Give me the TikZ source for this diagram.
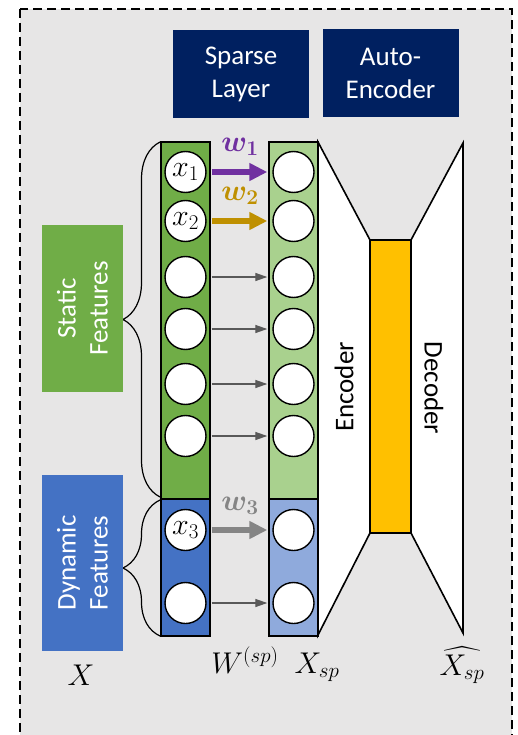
\RequirePackage{fix-cm}
\documentclass[tikz,border=0pt]{standalone}
\usepackage[no-math]{fontspec}
\setmainfont{Carlito}
\usepackage{amsmath}
\usetikzlibrary{arrows.meta,decorations.pathreplacing}

\definecolor{bggray}{HTML}{E7E6E6}
\definecolor{navy}{HTML}{002060}
\definecolor{sgreen}{HTML}{70AD47}
\definecolor{lgreen}{HTML}{A9D18E}
\definecolor{dblue}{HTML}{4472C4}
\definecolor{lblue}{HTML}{8FAADC}
\definecolor{wpurple}{HTML}{7030A0}
\definecolor{wgold}{HTML}{BF9000}
\definecolor{wgray}{HTML}{858585}
\definecolor{darrow}{HTML}{595959}
\definecolor{latent}{HTML}{FFC000}

\begin{document}
\begin{tikzpicture}[x=1pt,y=-1pt,
    titlebox/.style={fill=navy,text=white,minimum width=136pt,minimum height=88pt,
        align=center,font=\fontsize{27}{33}\selectfont},
    featbox/.style={text=white,rotate=90,align=center,minimum height=81pt,
        font=\fontsize{27}{32}\selectfont},
    column/.style={draw,line width=1.6pt},
    neuron/.style={circle,draw,fill=white,line width=1.4pt,minimum size=41pt,
        inner sep=0pt,font=\fontsize{30}{36}\selectfont},
    heavyarrow/.style={line width=6pt,-{Triangle[length=18pt,width=17pt]},
        shorten <=5pt,shorten >=5pt},
    lightarrow/.style={darrow,line width=1.3pt,-{Triangle[length=12pt,width=8pt]},
        shorten <=5pt,shorten >=5pt},
    wlabel/.style={font=\fontsize{30}{36}\selectfont},
    mathlabel/.style={anchor=base,font=\fontsize{30}{36}\selectfont},
    curly/.style={decorate,decoration={brace,amplitude=37pt},line width=1.2pt}]

    \useasboundingbox (0,0) rectangle (518,735);
    \clip (0,0) rectangle (518,735);
    \fill[white] (0,0) rectangle (518,735);
    \draw[fill=bggray,line width=1.5pt,dash pattern=on 9pt off 5pt] (20,9) rectangle (512,760);

    \node[titlebox] (sparse) at (241,74) {Sparse\\Layer};
    \node[titlebox] (autoenc) at (390.5,73) {Auto-\\Encoder};

    \draw[fill=white,line width=1.6pt] (318,142) -- (370,240) -- (370,533) -- (318,635) -- cycle;
    \draw[fill=white,line width=1.6pt] (411,240) -- (463,143) -- (463,633) -- (411,533) -- cycle;
    \draw[fill=latent,line width=1.6pt] (370,240) rectangle (411,533);
    \node[rotate=90,font=\fontsize{27}{32}\selectfont] (enc) at (344,387) {Encoder};
    \node[rotate=-90,font=\fontsize{27}{32}\selectfont] (dec) at (434,388) {Decoder};

    \draw[column,fill=sgreen] (161,142) rectangle (210,499);
    \draw[column,fill=dblue] (161,499) rectangle (210,636);
    \draw[column,fill=lgreen] (269,142) rectangle (318,499);
    \draw[column,fill=lblue] (269,499) rectangle (318,636);

    \node[neuron] (x1) at (185.5,172) {$x_1$};
    \node[neuron] (x2) at (185.5,221) {$x_2$};
    \node[neuron] (x4) at (185.5,277) {};
    \node[neuron] (x5) at (185.5,329) {};
    \node[neuron] (x6) at (185.5,384) {};
    \node[neuron] (x7) at (185.5,436) {};
    \node[neuron] (x3) at (185.5,530) {$x_3$};
    \node[neuron] (x8) at (185.5,603) {};

    \node[neuron] (s1) at (293.5,172) {};
    \node[neuron] (s2) at (293.5,221) {};
    \node[neuron] (s4) at (293.5,277) {};
    \node[neuron] (s5) at (293.5,329) {};
    \node[neuron] (s6) at (293.5,384) {};
    \node[neuron] (s7) at (293.5,436) {};
    \node[neuron] (s3) at (293.5,530) {};
    \node[neuron] (s8) at (293.5,603) {};

    \draw[heavyarrow,wpurple] (x1.east) -- (s1.west);
    \draw[heavyarrow,wgold] (x2.east) -- (s2.west);
    \draw[heavyarrow,wgray] (x3.east) -- (s3.west);
    \draw[lightarrow] (x4.east) -- (s4.west);
    \draw[lightarrow] (x5.east) -- (s5.west);
    \draw[lightarrow] (x6.east) -- (s6.west);
    \draw[lightarrow] (x7.east) -- (s7.west);
    \draw[lightarrow] (x8.east) -- (s8.west);

    \node[wlabel,text=wpurple] (w1) at (240,147) {$\boldsymbol{w_1}$};
    \node[wlabel,text=wgold] (w2) at (240,196) {$\boldsymbol{w_2}$};
    \node[wlabel,text=wgray] (w3) at (240,506) {$\boldsymbol{w_3}$};

    \draw[curly] (160,497) -- (160,142);
    \draw[curly] (160,636) -- (160,500);

    \node[featbox,fill=sgreen,minimum width=167pt] (static) at (82.5,308.5) {Static\\Features};
    \node[featbox,fill=dblue,minimum width=176pt] (dynamic) at (82.5,563) {Dynamic\\Features};

    \node[mathlabel] (xin) at (81,685) {$X$};
    \node[mathlabel] (wsp) at (245,673) {$W^{(sp)}$};
    \node[mathlabel] (xsp) at (317,673) {$X_{sp}$};
    \node[mathlabel] (xhat) at (462,675) {$\widehat{X_{sp}}$};
\end{tikzpicture}
\end{document}
